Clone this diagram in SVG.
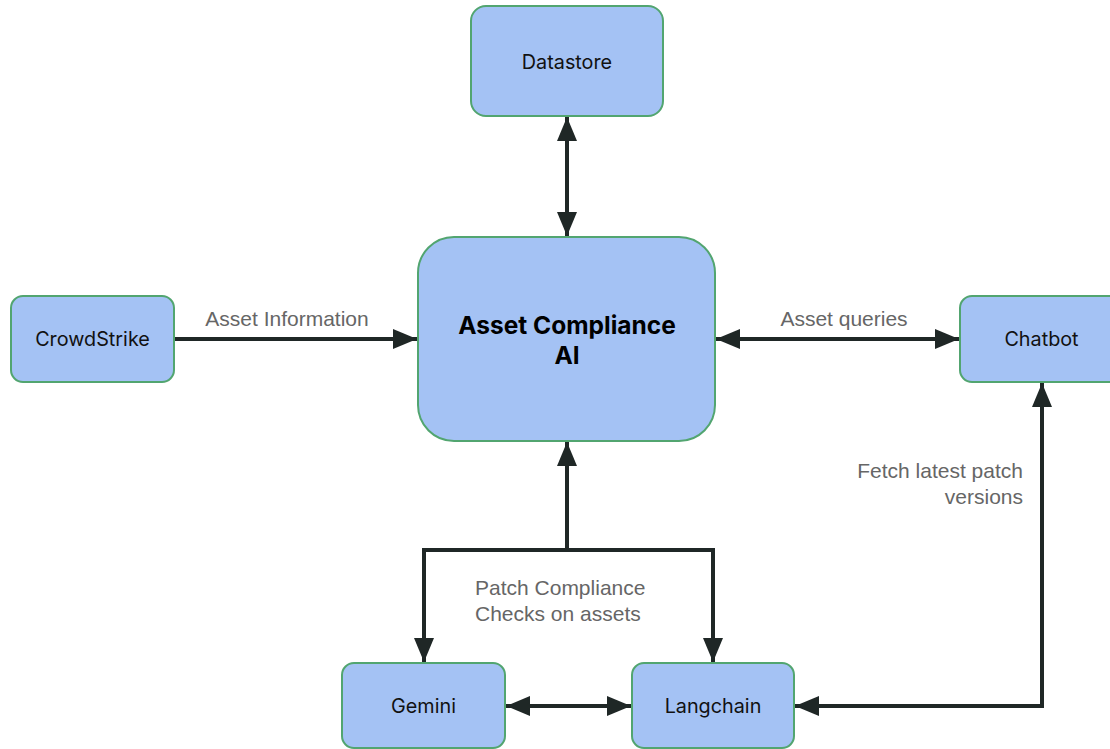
<svg xmlns="http://www.w3.org/2000/svg" width="1110" height="749" viewBox="0 0 1110 749">
<defs>
<style>
.node{fill:#a4c2f4;stroke:#52a570;stroke-width:2}
.nt{font-family:Inter,"Liberation Sans",sans-serif;font-size:19.8px;fill:#111;text-anchor:middle;dominant-baseline:central}
.bt{font-family:Inter,"Liberation Sans",sans-serif;font-size:24.5px;font-weight:700;fill:#000;text-anchor:middle;dominant-baseline:central}
.el{font-family:"Liberation Sans",Arial,sans-serif;font-size:21px;fill:#666}
.c{fill:none;stroke:#1f2726;stroke-width:4}
</style>
<marker id="ae" viewBox="0 0 24 20" refX="24" refY="10" markerWidth="24" markerHeight="20" markerUnits="userSpaceOnUse" orient="auto">
<path d="M0,0 L24,10 L0,20 Z" fill="#1f2726"/>
</marker>
<marker id="as" viewBox="0 0 24 20" refX="0" refY="10" markerWidth="24" markerHeight="20" markerUnits="userSpaceOnUse" orient="auto">
<path d="M24,0 L0,10 L24,20 Z" fill="#1f2726"/>
</marker>
</defs>
<rect width="1110" height="749" fill="#fff"/>
<g id="connectors">
<path class="c" d="M567,117 V236" marker-start="url(#as)" marker-end="url(#ae)"/>
<path class="c" d="M175,339 H417" marker-end="url(#ae)"/>
<path class="c" d="M716,339 H959" marker-start="url(#as)" marker-end="url(#ae)"/>
<path class="c" d="M567,550 V442" marker-end="url(#ae)"/>
<path class="c" d="M567,550 H424 V662" marker-end="url(#ae)"/>
<path class="c" d="M567,550 H713 V662" marker-end="url(#ae)"/>
<path class="c" d="M506,706 H631" marker-start="url(#as)" marker-end="url(#ae)"/>
<path class="c" d="M1042,383 V706 H795" marker-start="url(#as)" marker-end="url(#ae)"/>
<text class="el" x="287" y="326" text-anchor="middle">Asset Information</text>
<text class="el" x="844" y="326" text-anchor="middle">Asset queries</text>
<text class="el" x="475" y="595">Patch Compliance</text>
<text class="el" x="475" y="621">Checks on assets</text>
<text class="el" x="1023" y="478" text-anchor="end">Fetch latest patch</text>
<text class="el" x="1023" y="504" text-anchor="end">versions</text>
</g>
<g id="datastore"><rect class="node" x="471" y="6" width="192" height="110" rx="15"/><text class="nt" x="567" y="62">Datastore</text></g>
<g id="central"><rect class="node" x="418" y="237" width="297" height="204" rx="36"/><text class="bt" x="567" y="325">Asset Compliance</text><text class="bt" x="567" y="355">AI</text></g>
<g id="crowdstrike"><rect class="node" x="11" y="296" width="163" height="86" rx="12"/><text class="nt" x="92.5" y="339">CrowdStrike</text></g>
<g id="chatbot"><rect class="node" x="960" y="296" width="163" height="86" rx="12"/><text class="nt" x="1041.5" y="339">Chatbot</text></g>
<g id="gemini"><rect class="node" x="342" y="663" width="163" height="85" rx="12"/><text class="nt" x="423.5" y="706">Gemini</text></g>
<g id="langchain"><rect class="node" x="632" y="663" width="162" height="85" rx="12"/><text class="nt" x="713" y="706">Langchain</text></g>
</svg>
